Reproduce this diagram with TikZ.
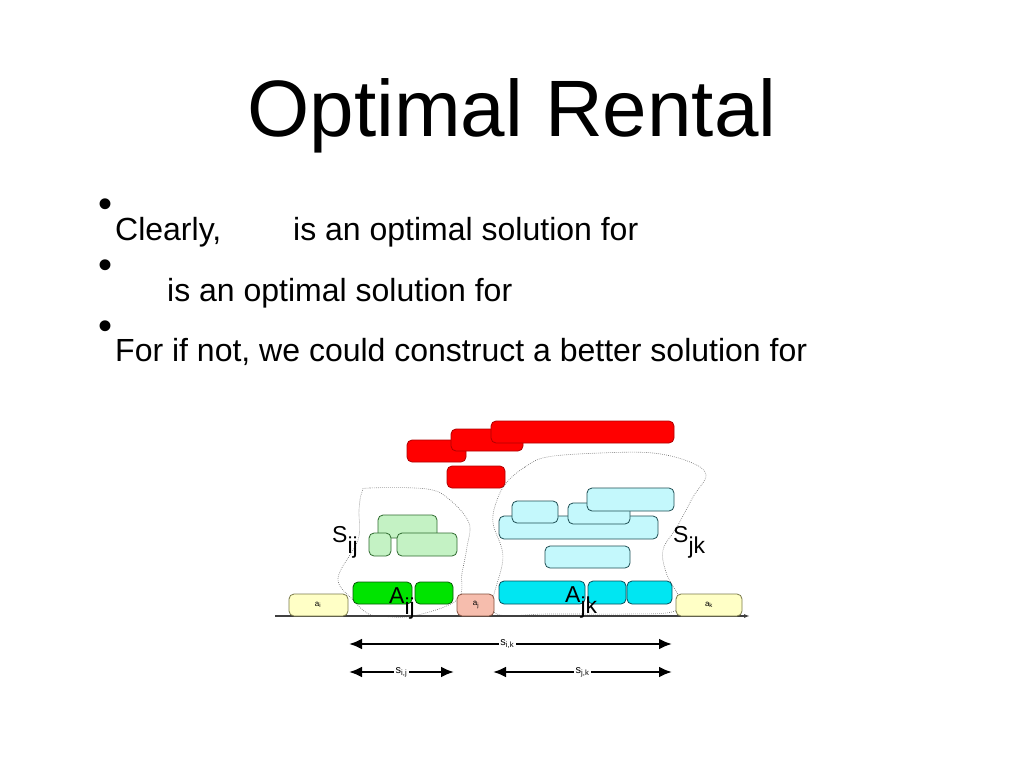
\documentclass[tikz,border=0pt]{standalone}
\usepackage{fontspec}
\setmainfont{Liberation Sans}
\usetikzlibrary{arrows.meta}
\definecolor{redF}{HTML}{FF0000}
\definecolor{redD}{HTML}{B00000}
\definecolor{grnF}{HTML}{00E400}
\definecolor{grnD}{HTML}{075A07}
\definecolor{lgrF}{HTML}{C4F2C4}
\definecolor{lgrD}{HTML}{2E6A2E}
\definecolor{cyaF}{HTML}{00E6F2}
\definecolor{cyaD}{HTML}{074E5A}
\definecolor{lcyF}{HTML}{C4F8FC}
\definecolor{lcyD}{HTML}{1E4E54}
\definecolor{yelF}{HTML}{FFFFC6}
\definecolor{yelD}{HTML}{7A7A4A}
\definecolor{salF}{HTML}{F6BDAD}
\definecolor{salD}{HTML}{84503E}
\begin{document}
\begin{tikzpicture}[x=1pt,y=-1pt,
  boxbase/.style={rounded corners=5pt, line width=0.8pt},
  redbox/.style={boxbase, fill=redF, draw=redD},
  grnbox/.style={boxbase, fill=grnF, draw=grnD},
  lgrbox/.style={boxbase, fill=lgrF, draw=lgrD},
  cyabox/.style={boxbase, fill=cyaF, draw=cyaD},
  lcybox/.style={boxbase, fill=lcyF, draw=lcyD},
  yelbox/.style={boxbase, fill=yelF, draw=yelD},
  salbox/.style={boxbase, fill=salF, draw=salD},
  blob/.style={draw=black!60, line width=0.6pt, dash pattern=on 0.7pt off 1.3pt},
  biglbl/.style={anchor=base west, inner sep=0pt, font=\fontsize{23}{23}\selectfont},
  tinylbl/.style={inner sep=0pt, font=\fontsize{8}{8}\selectfont},
  dimlbl/.style={fill=white, inner sep=1.5pt, font=\fontsize{11}{11}\selectfont},
  dimline/.style={line width=2.4pt, {Latex[length=13pt,width=11pt]}-{Latex[length=13pt,width=11pt]}},
  bodytext/.style={anchor=base west, inner sep=0pt, font=\fontsize{32}{38}\selectfont},
  bulletmark/.style={inner sep=0pt, font=\fontsize{40}{40}\selectfont}
]
\fill[white] (0,0) rectangle (1024,768);
\useasboundingbox (0,0) rectangle (1024,768);

% title
\node[anchor=base, inner sep=0pt, font=\fontsize{80}{90}\selectfont] (title) at (512,136) {Optimal Rental};

% bullets
\node[bulletmark] (b1) at (106,208) {\textbullet};
\node[bulletmark] (b2) at (106,269) {\textbullet};
\node[bulletmark] (b3) at (106,330) {\textbullet};
\node[bodytext] (t1a) at (115,240) {Clearly,};
\node[bodytext] (t1b) at (293,240) {is an optimal solution for};
\node[bodytext] (t2) at (167,301) {is an optimal solution for};
\node[bodytext] (t3) at (115,361) {For if not, we could construct a better solution for};

% red boxes
\draw[redbox] (407,440) rectangle (466,462);
\draw[redbox] (451,429) rectangle (523,451);
\draw[redbox] (491,421) rectangle (674,443);
\draw[redbox] (447,466) rectangle (505,488);

% dotted blobs
\draw[blob] plot[smooth cycle, tension=0.6] coordinates {
  (362,492) (370,488) (427,489) (450,500) (469,523) (467,547) (462,573)
  (457,600) (413,616) (380,616) (367,613) (353,600) (338,578) (358,540) (359,510)};
\draw[blob] plot[smooth cycle, tension=0.6] coordinates {
  (507,482) (525,467) (547,457) (600,453) (653,453) (690,462) (706,475)
  (693,497) (677,527) (663,550) (667,575) (680,600) (672,612) (627,614)
  (547,614) (500,615) (493,600) (503,557) (493,523) (497,500)};

% light green boxes
\draw[lgrbox] (378,515) rectangle (437,538);
\draw[lgrbox] (369,533) rectangle (391,556);
\draw[lgrbox] (397,533) rectangle (457,556);

% light cyan boxes
\draw[lcybox] (499,516) rectangle (658,539);
\draw[lcybox] (512,501) rectangle (558,523);
\draw[lcybox] (568,503) rectangle (630,524);
\draw[lcybox] (587,488) rectangle (674,511);
\draw[lcybox] (545,546) rectangle (630,568);

% axis
\coordinate (ax0) at (275,616);
\coordinate (ax1) at (750,616);
\draw[black!75, line width=1.2pt, -{Latex[length=6pt,width=4pt]}] (ax0) -- (ax1);

% bottom row
\draw[yelbox] (289,594) rectangle (348,616);
\node[tinylbl] (ai) at (318,605) {a\textsubscript{i}};
\draw[grnbox] (353,582) rectangle (412,604);
\draw[grnbox] (415,582) rectangle (453,604);
\draw[salbox] (457,594) rectangle (494,616);
\node[tinylbl] (aj) at (476,605) {a\textsubscript{j}};
\draw[cyabox] (499,581) rectangle (585,604);
\draw[cyabox] (588,581) rectangle (626,604);
\draw[cyabox] (627,581) rectangle (672,604);
\draw[yelbox] (676,594) rectangle (742,616);
\node[tinylbl] (ak) at (709,605) {a\textsubscript{k}};

% big labels
\node[biglbl] (Sij) at (332,542) {S\raisebox{-11pt}{ij}};
\node[biglbl] (Sjk) at (673,542) {S\raisebox{-11pt}{jk}};
\node[biglbl] (Aij) at (389,603) {A\raisebox{-11pt}{ij}};
\node[biglbl] (Ajk) at (565,602) {A\raisebox{-11pt}{jk}};

% dimension arrows
\coordinate (ik0) at (349,644);
\coordinate (ik1) at (672,644);
\coordinate (ij0) at (349,672);
\coordinate (ij1) at (454,672);
\coordinate (jk0) at (493,672);
\coordinate (jk1) at (672,672);
\draw[dimline] (ik0) -- node[dimlbl, pos=0.49] (sik) {s\textsubscript{i,k}} (ik1);
\draw[dimline] (ij0) -- node[dimlbl, pos=0.5] (sij) {s\textsubscript{i,j}} (ij1);
\draw[dimline] (jk0) -- node[dimlbl, pos=0.5] (sjk) {s\textsubscript{j,k}} (jk1);
\end{tikzpicture}
\end{document}
